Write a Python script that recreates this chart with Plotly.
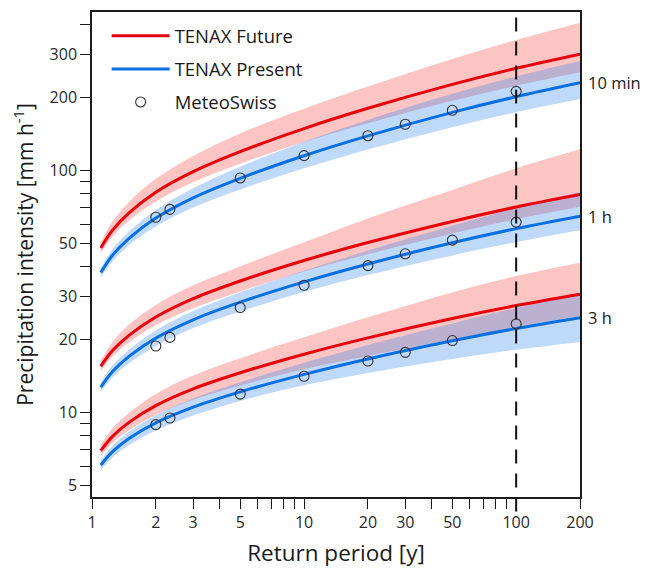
import math
import plotly.graph_objects as go

# ---------------- data ----------------
T = [1.1, 1.25, 1.5, 2, 3, 5, 10, 20, 50, 100, 200]

fut_10min = [47.8, 56.6, 66.9, 81.2, 98.8, 119.5, 148.8, 180.4, 226.5, 264.0, 302]
fut_10min_lo = [45.5, 53.2, 62.2, 74.4, 89.3, 106.5, 130.8, 156.4, 193.7, 223.6, 254.0]
fut_10min_hi = [50.6, 61.4, 74.2, 92.2, 114.7, 142.1, 179.7, 221.9, 288.6, 345.6, 407.4]

pre_10min = [37.8, 44.6, 52.5, 63.5, 77.0, 92.7, 114.9, 138.8, 173.5, 201.5, 230]
pre_10min_lo = [36.1, 42.2, 49.2, 58.7, 70.2, 83.4, 101.9, 122.0, 150.8, 173.9, 197.1]
pre_10min_hi = [39.6, 47.1, 56.0, 68.6, 84.4, 103.5, 131.3, 161.6, 207.2, 244.4, 282.9]

fut_1h = [15.5, 18.0, 20.86, 24.77, 29.5, 34.9, 42.4, 50.3, 61.5, 70.5, 79.4]
fut_1h_lo = [14.8, 17.0, 19.5, 22.9, 26.9, 31.6, 38.2, 45.0, 54.8, 62.8, 70.7]
fut_1h_hi = [16.4, 19.5, 23.1, 27.8, 33.5, 40.1, 50.4, 63.3, 83.0, 101.9, 122.1]

pre_1h = [12.7, 14.75, 17.08, 20.27, 24.12, 28.52, 34.62, 41.04, 50.18, 57.44, 64.7]
pre_1h_lo = [12.1, 13.95, 16.0, 18.8, 22.3, 26.1, 31.4, 36.9, 44.5, 50.5, 56.5]
pre_1h_hi = [13.3, 15.6, 18.2, 21.8, 26.2, 31.3, 38.5, 46.6, 59.0, 69.8, 81.5]

fut_3h = [6.95, 7.96, 9.11, 10.66, 12.5, 14.57, 17.39, 20.32, 24.42, 27.63, 30.8]
fut_3h_lo = [6.61, 7.48, 8.46, 9.76, 11.28, 12.92, 15.08, 17.09, 20.07, 22.57, 25.04]
fut_3h_hi = [7.36, 8.59, 9.98, 11.91, 14.19, 16.73, 20.43, 24.71, 31.31, 36.58, 41.55]

pre_3h = [6.05, 6.88, 7.81, 9.05, 10.51, 12.15, 14.35, 16.62, 19.76, 22.2, 24.6]
pre_3h_lo = [5.78, 6.51, 7.33, 8.41, 9.70, 11.15, 12.94, 14.54, 16.62, 18.14, 19.53]
pre_3h_hi = [6.33, 7.27, 8.33, 9.74, 11.41, 13.32, 16.03, 19.0, 23.3, 27.0, 30.7]

T_obs = [2, 2.33, 5, 10, 20, 30, 50, 100]
obs_10min = [64, 69, 93, 115, 139, 155, 177, 212]
obs_1h = [18.8, 20.4, 27.1, 33.5, 40.4, 45.2, 51.5, 61.1]
obs_3h = [8.9, 9.48, 11.9, 14.1, 16.3, 17.7, 19.8, 23.2]

durations = ["10 min", "1 h", "3 h"]

x_ticks = [1, 2, 3, 5, 10, 20, 30, 50, 100, 200]
x_minor = [4, 6, 7, 8, 9, 40, 60, 70, 80, 90]
y_ticks = [5, 10, 20, 30, 50, 100, 200, 300]
y_minor = [6, 7, 8, 9, 40, 60, 70, 80, 90, 400]
x_range = [1, 200]
y_range = [4.47, 451]
ref_period = 100

# ---------------- styling ----------------
RED = "#e8000b"
BLUE = "#0a6fe0"
RED_BAND = "rgba(250,60,60,0.30)"
BLUE_BAND = "rgba(40,130,240,0.30)"
FONT = "Open Sans"
INK = "#1a1a1a"

fig = go.Figure()

future = [(fut_10min, fut_10min_lo, fut_10min_hi),
          (fut_1h, fut_1h_lo, fut_1h_hi),
          (fut_3h, fut_3h_lo, fut_3h_hi)]
present = [(pre_10min, pre_10min_lo, pre_10min_hi),
           (pre_1h, pre_1h_lo, pre_1h_hi),
           (pre_3h, pre_3h_lo, pre_3h_hi)]
observed = [obs_10min, obs_1h, obs_3h]


def add_band(lo, hi, color):
    fig.add_trace(go.Scatter(x=T, y=lo, mode="lines", line=dict(width=0, shape="spline"),
                             showlegend=False, hoverinfo="skip"))
    fig.add_trace(go.Scatter(x=T, y=hi, mode="lines", line=dict(width=0, shape="spline"),
                             fill="tonexty", fillcolor=color, showlegend=False, hoverinfo="skip"))


for (_, lo, hi) in future:
    add_band(lo, hi, RED_BAND)
for (_, lo, hi) in present:
    add_band(lo, hi, BLUE_BAND)

for i, (mid, _, _) in enumerate(future):
    fig.add_trace(go.Scatter(x=T, y=mid, mode="lines", name="TENAX Future",
                             line=dict(color=RED, width=3, shape="spline"),
                             legendgroup="future", showlegend=(i == 0)))
for i, (mid, _, _) in enumerate(present):
    fig.add_trace(go.Scatter(x=T, y=mid, mode="lines", name="TENAX Present",
                             line=dict(color=BLUE, width=3, shape="spline"),
                             legendgroup="present", showlegend=(i == 0)))
for i, obs in enumerate(observed):
    fig.add_trace(go.Scatter(x=T_obs, y=obs, mode="markers", name="MeteoSwiss",
                             marker=dict(symbol="circle-open", size=10, color="#333333",
                                         line=dict(color="#333333", width=1.1)),
                             legendgroup="obs", showlegend=(i == 0)))

# duration labels at the right end of the present-climate curves
for lab, (mid, _, _) in zip(durations, present):
    fig.add_annotation(x=1, xref="paper", y=math.log10(mid[-1]), yref="y",
                       text=lab, showarrow=False, xanchor="left", yanchor="middle",
                       xshift=6, yshift=0, font=dict(family=FONT, size=16.5, color=INK))

# reference return period (dashed vertical line)
fig.add_shape(type="line", xref="x", yref="paper",
              x0=ref_period, x1=ref_period, y0=-0.03, y1=1,
              line=dict(color="#111111", width=2, dash="14px,10px"), layer="above")

axis_common = dict(type="log", showgrid=False, zeroline=False, showline=True,
                   linecolor=INK, linewidth=1.5, mirror=True, ticks="outside",
                   ticklen=10, tickwidth=1.3, tickcolor=INK,
                   tickfont=dict(family=FONT, size=16, color="#2a2a2a"))

fig.update_xaxes(**axis_common,
                 range=[math.log10(x_range[0]), math.log10(x_range[1])],
                 tickvals=x_ticks, ticktext=[str(v) for v in x_ticks],
                 minor=dict(tickvals=x_minor, ticks="outside", ticklen=10,
                            tickwidth=1.3, tickcolor=INK, showgrid=False),
                 title=dict(text="Return period [y]", standoff=13,
                            font=dict(family=FONT, size=22.5, color=INK)))
fig.update_yaxes(**axis_common,
                 range=[math.log10(y_range[0]), math.log10(y_range[1])],
                 tickvals=y_ticks, ticktext=[str(v) for v in y_ticks],
                 minor=dict(tickvals=y_minor, ticks="outside", ticklen=10,
                            tickwidth=1.3, tickcolor=INK, showgrid=False),
                 title=dict(text="Precipitation intensity [mm h<sup>-1</sup>]", standoff=13,
                            font=dict(family=FONT, size=21, color=INK)))

# the page body adds an 8px margin, so the figure is sized to fit the window
fig.update_layout(
    width=643, height=560,
    margin=dict(l=84, r=71, t=2, b=71),
    plot_bgcolor="white", paper_bgcolor="white",
    font=dict(family=FONT, color=INK),
    legend=dict(x=0.03, y=0.989, xanchor="left", yanchor="top",
                bgcolor="rgba(0,0,0,0)", traceorder="grouped", tracegroupgap=6,
                font=dict(family=FONT, size=18.5, color=INK), itemwidth=58),
)

fig.write_html("out.html")
